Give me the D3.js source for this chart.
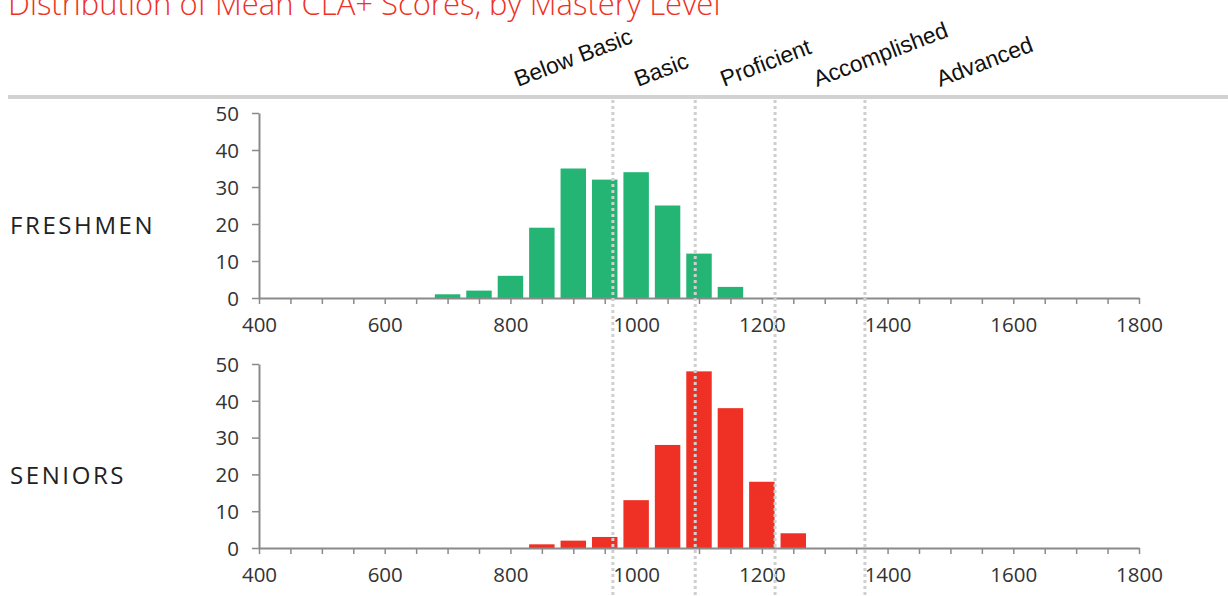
<!DOCTYPE html>
<html>
<head>
<meta charset="utf-8">
<script src="https://cdn.jsdelivr.net/npm/d3@7"></script>
<style>
  body { margin: 0; background: #fff; }
  svg { display: block; font-family: "Open Sans", "Noto Sans", sans-serif; }
</style>
</head>
<body>
<script>
// data
var binCenters = [700, 750, 800, 850, 900, 950, 1000, 1050, 1100, 1150, 1200, 1250];
var freshmen   = [1, 2, 6, 19, 35, 32, 34, 25, 12, 3, 0, 0];
var seniors    = [0, 0, 0, 1, 2, 3, 13, 28, 48, 38, 18, 4];
var groups     = ["FRESHMEN", "SENIORS"];
var levels     = ["Below Basic", "Basic", "Proficient", "Accomplished", "Advanced"];
var cutScores  = [963, 1094, 1221, 1364];
var yTicks     = [0, 10, 20, 30, 40, 50];
var xTicks     = d3.range(400, 1801, 50);

var W = 1228, H = 596;
var colors = ["#24b574", "#ee3124"];

var svg = d3.select("body").append("svg")
  .attr("width", W).attr("height", H);

var x = d3.scaleLinear().domain([400, 1800]).range([259, 1139]);
var binW = 40.5; // bar width in score units

// title (top is cut off in the original)
svg.append("text")
  .attr("x", 8).attr("y", 15)
  .attr("font-size", 31)
  .attr("font-weight", 300)
  .attr("fill", "#ee3124")
  .text("Distribution of Mean CLA+ Scores, by Mastery Level");

// level labels, slanted, anchored at x offsets (px) from the chart
var labelX = [518, 638, 724, 817, 940];
svg.selectAll(".lvl").data(levels).enter().append("text")
  .attr("class", "lvl")
  .attr("font-family", "Liberation Sans, Arial, sans-serif")
  .attr("font-size", 22.8)
  .attr("fill", "#111")
  .attr("transform", function(d, i) { return "translate(" + labelX[i] + ",87) rotate(-21)"; })
  .text(function(d) { return d; });

// grey rule under the labels
svg.append("line")
  .attr("x1", 8).attr("x2", W)
  .attr("y1", 97).attr("y2", 97)
  .attr("stroke", "#d2d2d2").attr("stroke-width", 4);

var panels = [
  {name: groups[0], values: freshmen, y0: 298, y1: 113, color: colors[0]},
  {name: groups[1], values: seniors,  y0: 548, y1: 364, color: colors[1]}
];

panels.forEach(function(p) {
  var y = d3.scaleLinear().domain([0, 50]).range([p.y0, p.y1]);
  var g = svg.append("g");

  g.append("text")
    .attr("x", 10).attr("y", (p.y0 + p.y1) / 2 + 28)
    .attr("font-size", 24).attr("font-weight", 400)
    .attr("letter-spacing", 2.6)
    .attr("fill", "#222")
    .text(p.name);

  var bars = binCenters.map(function(c, i) { return {c: c, v: p.values[i]}; })
    .filter(function(d) { return d.v > 0; });

  g.selectAll("rect").data(bars).enter().append("rect")
    .attr("x", function(d) { return x(d.c - binW / 2); })
    .attr("width", x(400 + binW) - x(400))
    .attr("y", function(d) { return y(d.v); })
    .attr("height", function(d) { return y(0) - y(d.v); })
    .attr("fill", p.color);

  var ya = g.append("g")
    .attr("transform", "translate(" + x(400) + ",0)")
    .call(d3.axisLeft(y).tickValues(yTicks).tickSize(7).tickPadding(13).tickSizeOuter(0));

  var xa = g.append("g")
    .attr("transform", "translate(0," + y(0) + ")")
    .call(d3.axisBottom(x).tickValues(xTicks).tickSize(6).tickPadding(13).tickSizeOuter(0)
      .tickFormat(function(d) { return d % 200 === 0 ? d : ""; }));

  [ya, xa].forEach(function(a) {
    a.select(".domain").attr("stroke", "#8a8a8a").attr("stroke-width", 2);
    a.selectAll(".tick line").attr("stroke", "#8a8a8a").attr("stroke-width", 1.5);
    a.selectAll(".tick text")
      .attr("font-family", "Open Sans, sans-serif")
      .attr("font-size", 20.5).attr("font-weight", 400)
      .attr("fill", "#333");
  });
  ya.selectAll(".tick text").attr("dy", "0.36em");
});

// cut score lines, drawn over the bars
svg.selectAll(".cut").data(cutScores).enter().append("line")
  .attr("class", "cut")
  .attr("x1", function(d) { return x(d); })
  .attr("x2", function(d) { return x(d); })
  .attr("y1", 100).attr("y2", H)
  .attr("stroke", "#cfcfcf")
  .attr("stroke-width", 3)
  .attr("stroke-dasharray", "3,3");
</script>
</body>
</html>
